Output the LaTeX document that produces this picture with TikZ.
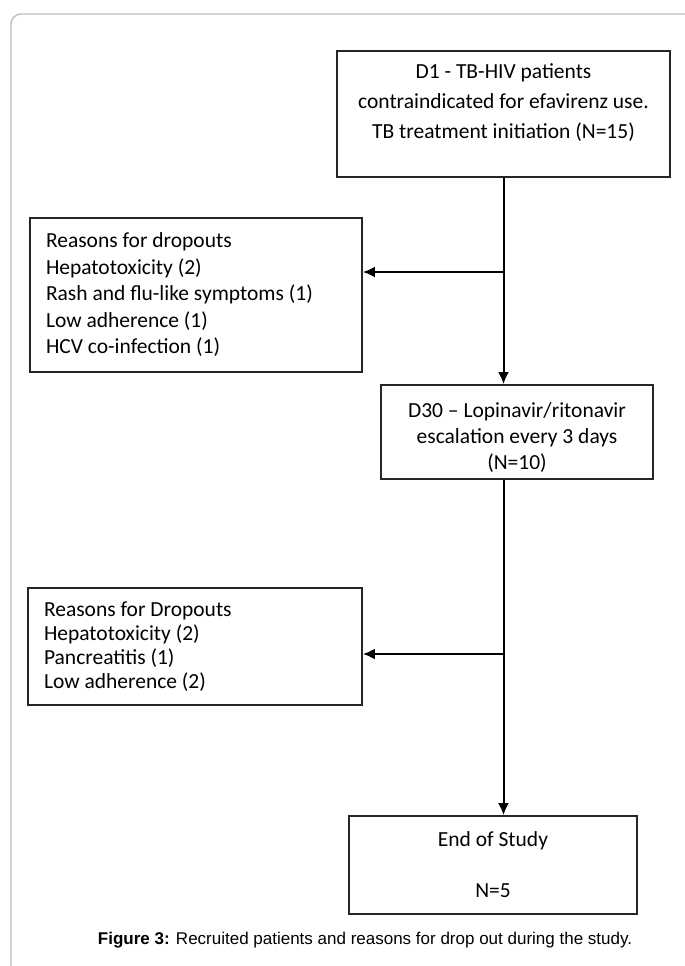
\documentclass[tikz,border=0pt]{standalone}
\usepackage{fontspec}
\setmainfont{Carlito}
\newfontfamily\captionfont{Liberation Sans}
\usetikzlibrary{arrows.meta,positioning}

\tikzset{
  box/.style={draw=black!85, line width=1.8pt, align=center, inner sep=0pt},
  reasonbox/.style={draw=black!85, line width=1.8pt, align=flush left, inner xsep=16pt, inner ysep=0pt},
  flow/.style={line width=2pt, -{Latex[length=12pt,width=11pt]}},
}

\begin{document}
\begin{tikzpicture}[x=1pt,y=-1pt,font=\fontsize{21.5}{30}\selectfont]
  \useasboundingbox (0,0) rectangle (685,966);
  \draw[gray!50,line width=1.4pt,rounded corners=10pt] (11,14) rectangle (696,978);

  % flow boxes
  \node[box,minimum width=333pt,minimum height=126pt,text depth=26pt] (d1) at (503.5,114)
    {D1 - TB-HIV patients\\contraindicated for efavirenz use.\\TB treatment initiation (N=15)};
  \node[box,minimum width=272pt,minimum height=94pt,text height=78pt,font=\fontsize{21.5}{26}\selectfont] (d30) at (517,432)
    {D30 – Lopinavir/ritonavir\\escalation every 3 days\\(N=10)};
  \node[box,minimum width=288pt,minimum height=98pt] (end) at (493,865)
    {End of Study\\[21pt]N=5};

  % dropout boxes
  \node[reasonbox,text width=300pt,minimum height=154pt,font=\fontsize{21.5}{26.5}\selectfont] (r1) at (196,295)
    {Reasons for dropouts\\Hepatotoxicity (2)\\Rash and flu-like symptoms (1)\\Low adherence (1)\\HCV co-infection (1)};
  \node[reasonbox,text width=302pt,minimum height=117pt,font=\fontsize{21.5}{24}\selectfont] (r2) at (195,646.5)
    {Reasons for Dropouts\\Hepatotoxicity (2)\\Pancreatitis (1)\\Low adherence (2)};

  % connectors
  \coordinate (b1) at (503.5,272);
  \coordinate (b2) at (503.5,654);
  \draw[flow] (d1.south) -- (d1.south |- d30.north);
  \draw[flow] (b1) -- (b1 -| r1.east);
  \draw[flow] (d1.south |- d30.south) -- (d1.south |- end.north);
  \draw[flow] (b2) -- (b2 -| r2.east);

  \node[font=\captionfont\fontsize{17}{20}\selectfont] (cap) at (365,940)
    {\textbf{Figure 3:} Recruited patients and reasons for drop out during the study.};
\end{tikzpicture}
\end{document}
